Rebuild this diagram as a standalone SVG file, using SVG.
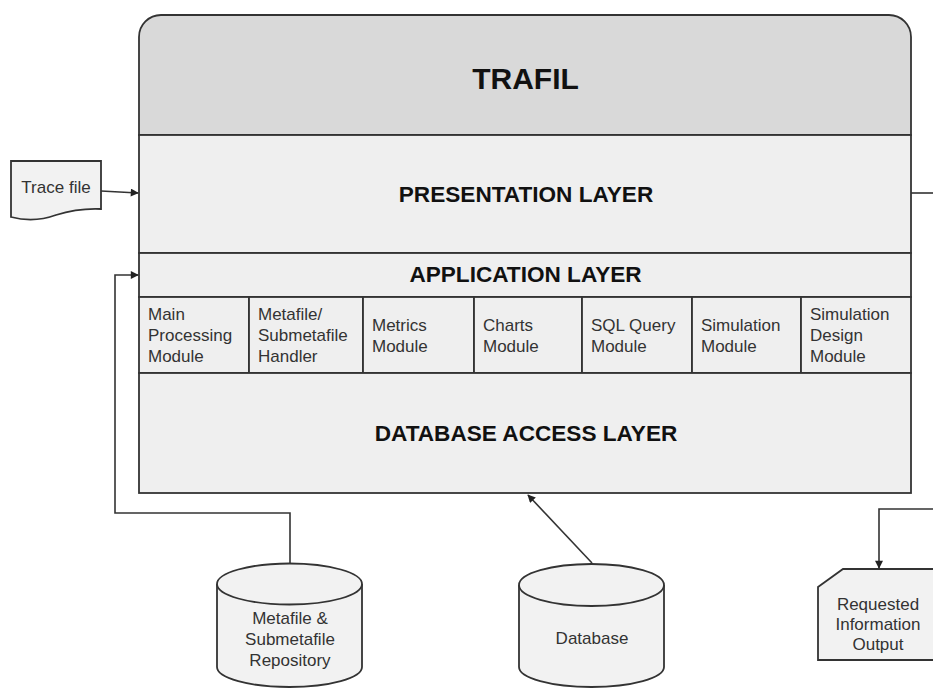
<svg xmlns="http://www.w3.org/2000/svg" width="933" height="688" viewBox="0 0 933 688">
<style>
.shape{stroke:#333;stroke-width:1.8;}
.hdr{fill:#d9d9d9;}
.lay{fill:#efefef;}
.doc{fill:#f2f2f2;}
.conn{fill:none;stroke:#333;stroke-width:1.6;}
.big{font-family:"Liberation Sans",Arial,sans-serif;font-weight:bold;fill:#111;text-anchor:middle;}
.t{font-family:"Liberation Sans",Arial,sans-serif;font-size:17px;fill:#333;}
.c{text-anchor:middle;}
</style>
<defs>
<marker id="arr" viewBox="0 0 10 10" refX="9" refY="5" markerWidth="9" markerHeight="8" markerUnits="userSpaceOnUse" orient="auto">
<path d="M0,0 L10,5 L0,10 Z" fill="#222"/>
</marker>
</defs>
<rect width="933" height="688" fill="#ffffff"/>

<g id="trafil">
<path class="shape hdr" d="M139,135 V37 A22,22 0 0 1 161,15 H889 A22,22 0 0 1 911,37 V135 Z"/>
<text class="big" x="525.5" y="89" font-size="30">TRAFIL</text>
</g>

<g id="presentation-layer">
<rect class="shape lay" x="139" y="135" width="772" height="118"/>
<text class="big" x="526" y="202" font-size="22.6">PRESENTATION LAYER</text>
</g>

<g id="application-layer">
<rect class="shape lay" x="139" y="253" width="772" height="44"/>
<text class="big" x="525.5" y="282" font-size="22.6">APPLICATION LAYER</text>
</g>

<g id="main-processing-module">
<rect class="shape lay" x="139" y="297" width="110" height="76"/>
<text class="t" x="148" y="320">Main</text>
<text class="t" x="148" y="341">Processing</text>
<text class="t" x="148" y="362">Module</text>
</g>
<g id="metafile-handler">
<rect class="shape lay" x="249" y="297" width="114" height="76"/>
<text class="t" x="258" y="320">Metafile/</text>
<text class="t" x="258" y="341">Submetafile</text>
<text class="t" x="258" y="362">Handler</text>
</g>
<g id="metrics-module">
<rect class="shape lay" x="363" y="297" width="111" height="76"/>
<text class="t" x="372" y="331">Metrics</text>
<text class="t" x="372" y="352">Module</text>
</g>
<g id="charts-module">
<rect class="shape lay" x="474" y="297" width="108" height="76"/>
<text class="t" x="483" y="331">Charts</text>
<text class="t" x="483" y="352">Module</text>
</g>
<g id="sql-query-module">
<rect class="shape lay" x="582" y="297" width="110" height="76"/>
<text class="t" x="591" y="331">SQL Query</text>
<text class="t" x="591" y="352">Module</text>
</g>
<g id="simulation-module">
<rect class="shape lay" x="692" y="297" width="109" height="76"/>
<text class="t" x="701" y="331">Simulation</text>
<text class="t" x="701" y="352">Module</text>
</g>
<g id="simulation-design-module">
<rect class="shape lay" x="801" y="297" width="110" height="76"/>
<text class="t" x="810" y="320">Simulation</text>
<text class="t" x="810" y="341">Design</text>
<text class="t" x="810" y="362">Module</text>
</g>

<g id="database-access-layer">
<rect class="shape lay" x="139" y="373" width="772" height="120"/>
<text class="big" x="526" y="441" font-size="22.6">DATABASE ACCESS LAYER</text>
</g>

<g id="trace-file">
<path class="shape doc" d="M11,161 H101 V209 Q78,208 56,215 Q34,223 11,217 Z"/>
<text class="t c" x="56" y="193">Trace file</text>
</g>

<g id="metafile-repository">
<path class="shape doc" d="M217,584 V667 A72.5,20 0 0 0 362,667 V584"/>
<ellipse class="shape doc" cx="289.5" cy="584" rx="72.5" ry="20.5"/>
<text class="t c" x="290" y="624">Metafile &amp;</text>
<text class="t c" x="290" y="645">Submetafile</text>
<text class="t c" x="290" y="666">Repository</text>
</g>

<g id="database">
<path class="shape doc" d="M519,585 V667 A72.5,20 0 0 0 664,667 V585"/>
<ellipse class="shape doc" cx="591.5" cy="585" rx="72.5" ry="21"/>
<text class="t c" x="592" y="644">Database</text>
</g>

<g id="requested-output">
<path class="shape doc" d="M818,587 L843,569 H945 V660 H818 Z"/>
<text class="t c" x="878" y="610">Requested</text>
<text class="t c" x="878" y="630">Information</text>
<text class="t c" x="878" y="650">Output</text>
</g>

<g id="connectors">
<path class="conn" d="M101,191 L138,193" marker-end="url(#arr)"/>
<path class="conn" d="M290,564 V513 H115 V275 H138" marker-end="url(#arr)"/>
<path class="conn" d="M592,563 L528,495" marker-end="url(#arr)"/>
<path class="conn" d="M911,193 H935"/>
<path class="conn" d="M935,509 H879 V568" marker-end="url(#arr)"/>
</g>
</svg>
